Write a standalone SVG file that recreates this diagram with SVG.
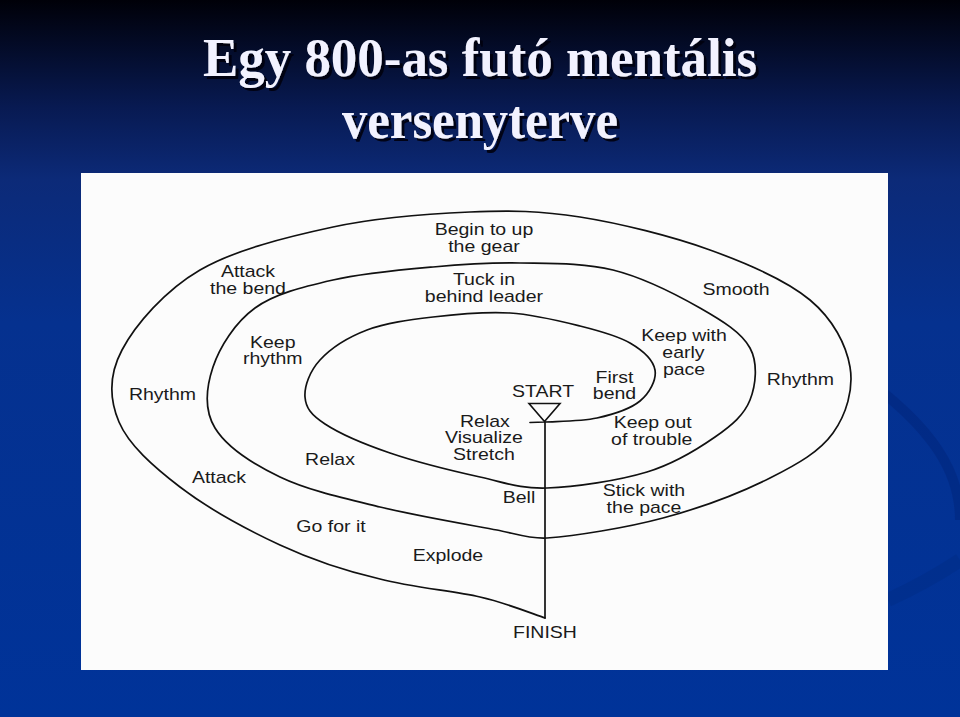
<svg xmlns="http://www.w3.org/2000/svg" width="960" height="717" viewBox="0 0 960 717">
<defs>
<linearGradient id="bg" x1="0" y1="0" x2="0" y2="1">
<stop offset="0" stop-color="#000008"/>
<stop offset="0.15" stop-color="#081a52"/>
<stop offset="0.25" stop-color="#0c2a78"/>
<stop offset="0.45" stop-color="#05318f"/>
<stop offset="1" stop-color="#003399"/>
</linearGradient>
<filter id="tshadow" x="-5%" y="-20%" width="110%" height="140%">
<feDropShadow dx="3" dy="3" stdDeviation="0.6" flood-color="#000010" flood-opacity="0.9"/>
</filter>
<style>
.title{font-family:"Liberation Serif","Times New Roman",serif;font-weight:bold;font-size:54px;fill:#f2f2ff;}
.lbl{font-family:"Liberation Sans",Arial,sans-serif;font-size:16px;fill:#1a1a1a;text-anchor:middle;}
.track{fill:none;stroke:#111;stroke-width:1.7;stroke-linejoin:round;stroke-linecap:round;}
</style>
</defs>
<rect x="0" y="0" width="960" height="717" fill="url(#bg)"/>
<g id="swoosh" fill="none" opacity="0.35">
<path d="M880,390 C930,430 960,470 960,520" stroke="#001f70" stroke-width="10"/>
<path d="M888,600 C920,585 945,570 960,560" stroke="#002a80" stroke-width="14"/>
</g>
<g id="title" filter="url(#tshadow)">
<text class="title" x="203" y="76" textLength="554" lengthAdjust="spacingAndGlyphs">Egy 800-as futó mentális</text>
<text class="title" x="342" y="138" textLength="276" lengthAdjust="spacingAndGlyphs">versenyterve</text>
</g>
<rect id="panel" x="81" y="173" width="807" height="497" fill="#fcfcfc"/>
<g id="connectors">
<path id="spiral" class="track" d="M530,422.5 L545,422
C556.2,421.25 581.2,421.5 597,418
C612.8,414.5 630.3,409 640,401
C649.7,393 656.7,379.7 655,370
C653.3,360.3 642.5,350.3 630,343
C617.5,335.7 600,331 580,326
C560,321 534.5,314.5 510,313
C485.5,311.5 456.8,314.2 433,317
C409.2,319.8 385.8,322.8 367,330
C348.2,337.2 330.3,348.8 320,360
C309.7,371.2 304.2,386.3 305,397
C305.8,407.7 310.8,414.7 325,424
C339.2,433.3 364.2,444.2 390,453
C415.8,461.8 453.8,471.2 480,477
C506.2,482.8 519.2,488.8 547,488
C574.8,487.2 619,480.5 647,472
C675,463.5 697.8,449 715,437
C732.2,425 744.2,414.8 750,400
C755.8,385.2 758.3,363.3 750,348
C741.7,332.7 722.8,321 700,308
C677.2,295 643,277.5 613,270
C583,262.5 550,263.5 520,263
C490,262.5 464.2,264.2 433,267
C401.8,269.8 362.7,273.2 333,280
C303.3,286.8 275,293.5 255,308
C235,322.5 219.7,347 213,367
C206.3,387 203.8,409.7 215,428
C226.2,446.3 252.5,463.8 280,477
C307.5,490.2 343.8,498.2 380,507
C416.2,515.8 469.2,524.8 497,530
C514,533.2 530,539.2 547,538
C574.7,536 625.8,528 663,518
C700.2,508 741.7,492.2 770,478
C798.3,463.8 819.7,451.5 833,433
C846.3,414.5 853.8,389.2 850,367
C846.2,344.8 833.3,319.5 810,300
C786.7,280.5 748.3,263.8 710,250
C671.7,236.2 620,223.3 580,217
C540,210.7 511.2,210.3 470,212
C428.8,213.7 378,217.3 333,227
C288,236.7 235.5,249.5 200,270
C164.8,290.5 135.5,324.7 122,350
C108.5,375.3 109.3,399.2 119,422
C128.7,444.8 153.2,466.5 180,487
C206.8,507.5 246.7,529.5 280,545
C313.3,560.5 346.7,571.3 380,579
C413.3,587.7 452.5,590.7 480,597
C507.5,603.3 534.2,614.5 545,618"/>
<path id="finish-line" class="track" d="M545,422 L545,618"/>
<polygon id="start-flag" points="529,403.5 560,403.5 544.5,421.5" fill="none" stroke="#111" stroke-width="1.6" stroke-linejoin="miter"/>
</g>
<g id="labels" transform="scale(1.22 1)">
<g id="l-begin"><text class="lbl" x="396.7" y="235">Begin to up</text><text class="lbl" x="396.7" y="252">the gear</text></g>
<g id="l-tuck"><text class="lbl" x="396.7" y="285">Tuck in</text><text class="lbl" x="396.7" y="302">behind leader</text></g>
<g id="l-attackbend"><text class="lbl" x="203.3" y="277">Attack</text><text class="lbl" x="203.3" y="294">the bend</text></g>
<g id="l-keeprhythm"><text class="lbl" x="223.6" y="348">Keep</text><text class="lbl" x="223.6" y="364">rhythm</text></g>
<g id="l-rhythm-left"><text class="lbl" x="133.2" y="400">Rhythm</text></g>
<g id="l-smooth"><text class="lbl" x="603.3" y="295">Smooth</text></g>
<g id="l-keepwith"><text class="lbl" x="560.7" y="341">Keep with</text><text class="lbl" x="560.2" y="358">early</text><text class="lbl" x="560.7" y="375">pace</text></g>
<g id="l-rhythm-right"><text class="lbl" x="656.1" y="385">Rhythm</text></g>
<g id="l-firstbend"><text class="lbl" x="503.7" y="383">First</text><text class="lbl" x="503.7" y="399">bend</text></g>
<g id="l-start"><text class="lbl" x="445.1" y="397">START</text></g>
<g id="l-relaxvis"><text class="lbl" x="397.5" y="427">Relax</text><text class="lbl" x="396.7" y="443.5">Visualize</text><text class="lbl" x="396.7" y="460">Stretch</text></g>
<g id="l-keepout"><text class="lbl" x="535" y="428.5">Keep out</text><text class="lbl" x="534.2" y="445">of trouble</text></g>
<g id="l-relax"><text class="lbl" x="270.5" y="465">Relax</text></g>
<g id="l-attack"><text class="lbl" x="179.5" y="483">Attack</text></g>
<g id="l-bell"><text class="lbl" x="425.4" y="503">Bell</text></g>
<g id="l-stick"><text class="lbl" x="527.9" y="496">Stick with</text><text class="lbl" x="527.9" y="513">the pace</text></g>
<g id="l-gofor"><text class="lbl" x="271.3" y="532">Go for it</text></g>
<g id="l-explode"><text class="lbl" x="367.2" y="561">Explode</text></g>
<g id="l-finish"><text class="lbl" x="446.7" y="638">FINISH</text></g>
</g>
</svg>
